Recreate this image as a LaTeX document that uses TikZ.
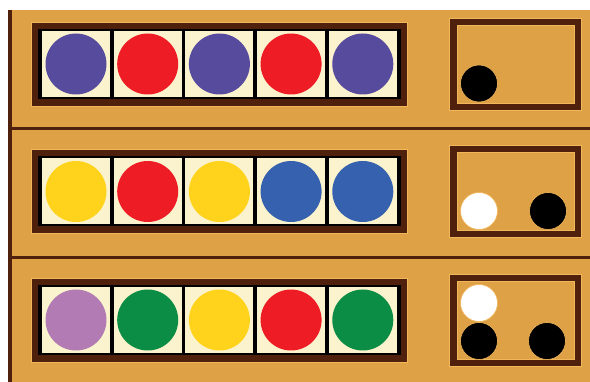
\documentclass[tikz,border=0pt]{standalone}
\definecolor{boardc}{HTML}{DEA145}
\definecolor{brownc}{HTML}{4F200B}
\definecolor{creamc}{HTML}{FBF3CD}
\definecolor{edgec}{HTML}{F2B75A}
\definecolor{purpc}{HTML}{574B9E}
\definecolor{redc}{HTML}{EE1C25}
\definecolor{yellc}{HTML}{FFD21B}
\definecolor{bluec}{HTML}{3661AE}
\definecolor{pinkc}{HTML}{B27BB4}
\definecolor{greenc}{HTML}{0B8D45}
\tikzset{
  codepeg/.style={circle,inner sep=0pt,minimum size=61pt,draw=none},
  keypeg/.style={circle,inner sep=0pt,minimum size=37pt,draw=edgec,line width=0.6pt},
}
\newcommand\mmrow[7]{%
  \fill[brownc] (31,22+#1) rectangle (407,106+#1);
  \draw[edgec,line width=0.6pt] (31,22+#1) rectangle (407,106+#1);
  \fill[black] (38,29+#1) rectangle (401,99+#1);
  \foreach \c [count=\i from 0] in {#2,#3,#4,#5,#6}{
    \fill[creamc] (42+71.7*\i,31+#1) rectangle ++(68,66);
    \node[codepeg,fill=\c] (r#7c\i) at (76+71.7*\i,64+#1) {};
  }
  \fill[brownc] (449,18+#1) rectangle (581,110+#1);
  \draw[edgec,line width=0.6pt] (449,18+#1) rectangle (581,110+#1);
  \fill[boardc] (457,25+#1) rectangle (574,103+#1);
  \draw[edgec,line width=0.6pt] (457,25+#1) rectangle (574,103+#1);
}
\begin{document}
\begin{tikzpicture}[x=1pt,y=-1pt]
\useasboundingbox (0,0) rectangle (590,382);
\fill[white] (0,0) rectangle (590,382);
\fill[boardc] (8,10) rectangle (590,382);
\fill[brownc] (8,10) rectangle (12,382);
\fill[brownc] (8,127.5) rectangle (590,130.5);
\fill[brownc] (8,256.5) rectangle (590,259.5);
\mmrow{0}{purpc}{redc}{purpc}{redc}{purpc}{1}
\mmrow{127.5}{yellc}{redc}{yellc}{bluec}{bluec}{2}
\mmrow{256}{pinkc}{greenc}{yellc}{redc}{greenc}{3}
% key pegs
\node[keypeg,fill=black] (k1a) at (479,83.5) {};
\node[keypeg,fill=white] (k2a) at (479,211) {};
\node[keypeg,fill=black] (k2b) at (548,211) {};
\node[keypeg,fill=white] (k3a) at (479,303) {};
\node[keypeg,fill=black] (k3b) at (479,341) {};
\node[keypeg,fill=black] (k3c) at (547,341) {};
\end{tikzpicture}
\end{document}
